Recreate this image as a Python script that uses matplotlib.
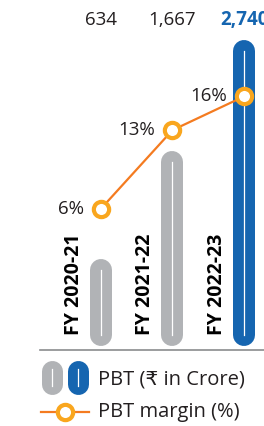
import matplotlib.pyplot as plt
from matplotlib.lines import Line2D

plt.rcParams['font.family'] = ['Open Sans', 'DejaVu Sans']

years = ['FY 2020-21', 'FY 2021-22', 'FY 2022-23']
pbt = [634, 1667, 2740]
pbt_labels = ['634', '1,667', '2,740']
margin = [6, 13, 16]

GRAY = '#B1B3B6'
BLUE = '#1565B0'
ORANGE = '#F47B20'
YELLOW = '#F9A61E'
TXT = '#231F20'

W, H = 264, 426
fig = plt.figure(figsize=(W / 100, H / 100), dpi=100)
ax = fig.add_axes([40 / W, (H - 350) / H, 1 - 40 / W, 350 / H])
ax.set_xlim(-0.853, 2.28)
ax.set_ylim(-140, 3230)
ax.axis('off')

x = list(range(len(years)))
colors = [GRAY, GRAY, BLUE]
bar_w = 22 * 72 / 100  # px -> pt
for i, v in enumerate(pbt):
    ax.plot([i, i], [0, v], color=colors[i], lw=bar_w, solid_capstyle='round', zorder=2)
    ax.plot([i, i], [0, v], color='white', lw=0.9, zorder=3)
    ax.annotate(pbt_labels[i], xy=(i, 0.943), xycoords=('data', 'axes fraction'),
                ha='center', va='center', fontsize=13.5,
                color=BLUE if i == 2 else TXT,
                fontweight='bold' if i == 2 else 'normal', annotation_clip=False)
    ax.annotate(years[i], xy=(i, 0.043), xycoords=('data', 'axes fraction'),
                xytext=(-19.5, 0), textcoords='offset points',
                ha='center', va='bottom', rotation=90, fontsize=14,
                fontweight='bold', color='black')

# baseline
ax.plot([0, 1], [0, 0], transform=ax.transAxes, color='#8A8C8E', lw=1.2, clip_on=False)

ax2 = ax.twinx()
ax2.set_ylim(-6.6, 24.6)
ax2.axis('off')
ax2.plot(x, margin, color=ORANGE, lw=1.6, marker='o', markersize=11,
         markerfacecolor='white', markeredgecolor=YELLOW, markeredgewidth=3, zorder=5)
for i, m in enumerate(margin):
    ax2.annotate(f'{m}%', xy=(i, m), xytext=(-12.5, 0), textcoords='offset points',
                 ha='right', va='center', fontsize=13.5, color=TXT)

# legend drawn by hand in figure coords
for x0, c in [(41, GRAY), (67, BLUE)]:
    fig.add_artist(Line2D([(x0 + 11) / W] * 2, [(H - 384) / H, (H - 371) / H],
                          color=c, lw=21 * 72 / 100, solid_capstyle='round'))
    fig.add_artist(Line2D([(x0 + 11) / W] * 2, [(H - 386) / H, (H - 369) / H],
                          color='white', lw=0.9))

fig.text(98 / W, (H - 379) / H, 'PBT (₹ in Crore)', fontsize=14.5, color=TXT,
         ha='left', va='center')
fig.add_artist(Line2D([41 / W, 89 / W], [(H - 412) / H] * 2, color=ORANGE, lw=1.6))
fig.add_artist(Line2D([65 / W], [(H - 412) / H], marker='o', markersize=11,
                      markerfacecolor='white', markeredgecolor=YELLOW, markeredgewidth=3))
fig.text(98 / W, (H - 412) / H, 'PBT margin (%)', fontsize=14.5, color=TXT,
         ha='left', va='center')

fig.savefig('out.png', dpi=100)
